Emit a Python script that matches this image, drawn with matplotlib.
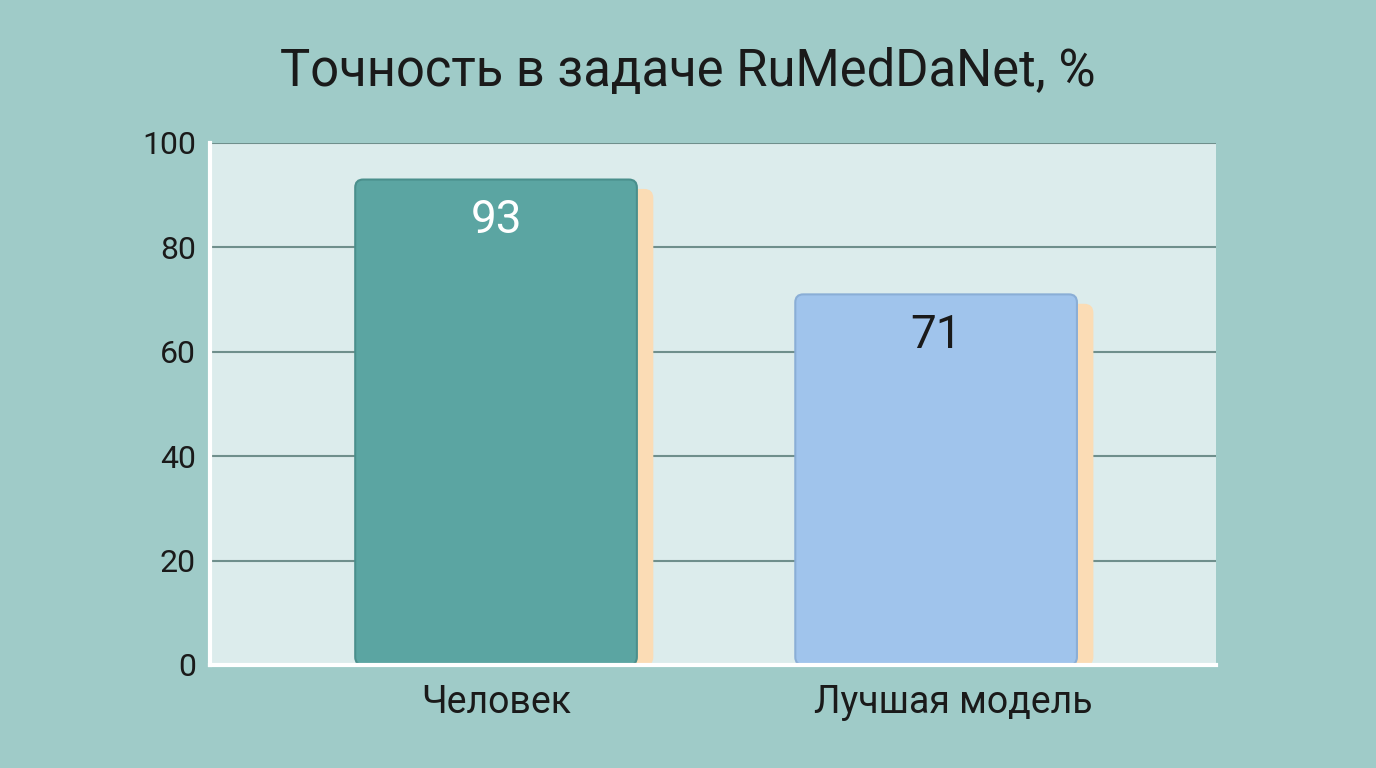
import matplotlib.pyplot as plt
from matplotlib.patches import FancyBboxPatch
from matplotlib.transforms import ScaledTranslation
import numpy as np

plt.rcParams['font.family'] = ['Roboto', 'DejaVu Sans']

categories = ['Человек', 'Лучшая модель']
accuracy = [93, 71]
yticks = [0, 20, 40, 60, 80, 100]

BG = '#9fcbc8'
PLOT_BG = '#dcecec'
bar_colors = ['#5ba5a2', '#a0c4ec']
edge_colors = ['#4a8f8c', '#8aaed6']
label_colors = ['white', '#1a1a1a']
SHADOW = '#fbdcb5'

fig = plt.figure(figsize=(13.76, 7.68), dpi=100, facecolor=BG)
ax = fig.add_axes([210 / 1376, 1 - 665 / 768, 1006 / 1376, 522 / 768])
ax.set_facecolor(PLOT_BG)

x = np.arange(len(categories))
width = 0.64


def round_bars(container, colors, edges, z):
    # swap the plain rectangles for rounded ones with the same geometry
    for rect, fc, ec in zip(container, colors, edges):
        bx, by = rect.get_x(), rect.get_y()
        bw, bh = rect.get_width(), rect.get_height()
        rect.remove()
        ax.add_patch(FancyBboxPatch((bx, by), bw, bh,
                                    boxstyle='round,pad=0,rounding_size=0.018',
                                    mutation_aspect=85, facecolor=fc, edgecolor=ec,
                                    linewidth=1.5, zorder=z))


# orange "shadow" behind each bar
shadow = ax.bar(x + 0.035, np.array(accuracy) - 2, width=width)
round_bars(shadow, [SHADOW] * 2, [SHADOW] * 2, 2)
bars = ax.bar(x, accuracy, width=width)
round_bars(bars, bar_colors, edge_colors, 3)

for xi, v, c in zip(x, accuracy, label_colors):
    ax.text(xi, v - 7.8, str(v), ha='center', va='center', fontsize=33, color=c, zorder=4)

ax.set_xlim(-0.65, 1.636)
ax.set_ylim(0, 100)
ax.set_yticks(yticks)
ax.set_xticks(x)
ax.set_xticklabels(categories, fontsize=27, color='#1a1a1a')
ax.tick_params(axis='y', length=0, labelsize=23, labelcolor='#1a1a1a', pad=10)
ax.tick_params(axis='x', length=0, pad=14)
for lbl in ax.get_yticklabels():
    lbl.set_verticalalignment('center_baseline')

# second category label sits a bit right of its bar in the original
lbl2 = ax.get_xticklabels()[1]
lbl2.set_transform(lbl2.get_transform() + ScaledTranslation(0.17, 0, fig.dpi_scale_trans))

ax.grid(axis='y', color='#6f8f8c', linewidth=1.5, zorder=1)
ax.set_axisbelow(True)

for side in ['top', 'right']:
    ax.spines[side].set_visible(False)
for side in ['left', 'bottom']:
    ax.spines[side].set_color('white')
    ax.spines[side].set_linewidth(3)
    ax.spines[side].set_zorder(5)

fig.text(0.5, 1 - 72 / 768, 'Точность в задаче RuMedDaNet, %', ha='center', va='center',
         fontsize=36.5, color='#1a1a1a')

fig.savefig('out.png', dpi=100, facecolor=BG)
